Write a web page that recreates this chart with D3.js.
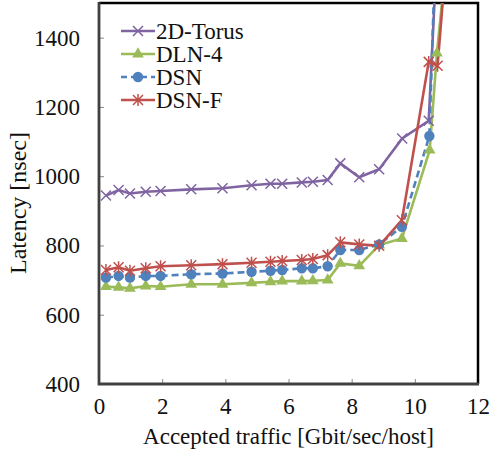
<!DOCTYPE html>
<html>
<head>
<meta charset="utf-8">
<script src="https://cdn.jsdelivr.net/npm/d3@7"></script>
<style>
body { margin: 0; background: #fff; }
svg, svg text { font-family: "Liberation Serif", "Times New Roman", Times, serif !important; }
</style>
</head>
<body>
<div class="canvas"></div>
<script>
// data
const seriesNames = ['2D-Torus', 'DLN-4', 'DSN', 'DSN-F'];

const torusX = [0.22, 0.62, 0.98, 1.48, 1.95, 2.92, 3.91, 4.83, 5.43, 5.80, 6.42, 6.77, 7.24, 7.64, 8.24, 8.87, 9.60, 10.44, 10.70];
const torusY = [944, 960, 950, 955, 957, 962, 965, 974, 978, 978, 982, 984, 989, 1037, 997, 1020, 1109, 1160, 1650];

const dlnX = [0.22, 0.62, 0.98, 1.48, 1.95, 2.92, 3.91, 4.83, 5.43, 5.80, 6.42, 6.77, 7.24, 7.64, 8.24, 8.87, 9.59, 10.47, 10.70, 11.0];
const dlnY = [681, 679, 676, 683, 681, 688, 688, 692, 695, 697, 697, 698, 700, 748, 741, 801, 820, 1075, 1355, 1630];

const dsnX = [0.22, 0.62, 0.98, 1.48, 1.95, 2.92, 3.91, 4.83, 5.43, 5.80, 6.42, 6.77, 7.24, 7.64, 8.24, 8.87, 9.59, 10.46, 10.70];
const dsnY = [707, 712, 707, 712, 712, 717, 719, 724, 727, 729, 734, 734, 740, 787, 787, 803, 854, 1116, 1790];

const dsnfX = [0.22, 0.62, 0.98, 1.48, 1.95, 2.92, 3.91, 4.83, 5.43, 5.80, 6.42, 6.77, 7.24, 7.64, 8.24, 8.87, 9.59, 10.44, 10.72, 11.0];
const dsnfY = [729, 737, 727, 734, 740, 743, 746, 750, 753, 755, 758, 761, 772, 809, 803, 799, 873, 1330, 1319, 1635];

const xTicks = [0, 2, 4, 6, 8, 10, 12];
const yTicks = [400, 600, 800, 1000, 1200, 1400];

const colors = ['#8064A2', '#9BBB59', '#4F81BD', '#C0504D'];
const markers = ['cross', 'triangle', 'circle', 'star'];

const series = [
  {name: seriesNames[0], xs: torusX, ys: torusY},
  {name: seriesNames[1], xs: dlnX, ys: dlnY},
  {name: seriesNames[2], xs: dsnX, ys: dsnY},
  {name: seriesNames[3], xs: dsnfX, ys: dsnfY}
].map((s, i) => ({
  name: s.name,
  color: colors[i],
  marker: markers[i],
  dashed: i === 2,
  points: s.xs.map((x, j) => ({x: x, y: s.ys[j]}))
}));

// dimensions
const width = 490, height = 451;
const plot = {left: 99, right: 478, top: 3, bottom: 384};
const serif = '"Liberation Serif", "Times New Roman", Times, serif';

const svg = d3.select('.canvas')
  .append('svg')
  .attr('width', width)
  .attr('height', height)
  .attr('font-family', serif);

// scales
const x = d3.scaleLinear().domain([0, 12]).range([plot.left, plot.right]);
const y = d3.scaleLinear().domain([400, 1500]).range([plot.bottom, plot.top]);

svg.append('clipPath').attr('id', 'clip')
  .append('rect')
  .attr('x', plot.left)
  .attr('y', plot.top)
  .attr('width', plot.right - plot.left)
  .attr('height', plot.bottom - plot.top);

// axes (ticks point inward)
const xAxis = d3.axisBottom(x).tickValues(xTicks).tickSize(-5).tickPadding(13).tickFormat(d3.format('d'));
const yAxis = d3.axisLeft(y).tickValues(yTicks).tickSize(-5).tickPadding(19).tickFormat(d3.format('d'));

const xAxisGroup = svg.append('g')
  .attr('transform', `translate(0,${plot.bottom})`)
  .call(xAxis);
const yAxisGroup = svg.append('g')
  .attr('transform', `translate(${plot.left},0)`)
  .call(yAxis);

[xAxisGroup, yAxisGroup].forEach(g => {
  g.attr('font-family', serif).attr('font-size', 23);
  g.select('.domain').remove();
  g.selectAll('.tick line').attr('stroke', '#888').attr('stroke-width', 1);
  g.selectAll('.tick text')
    .attr('font-family', serif)
    .attr('font-size', 23)
    .attr('fill', '#111');
});
xAxisGroup.selectAll('.tick text').attr('dy', '0.72em');
// hide the ticks at the frame edges
xAxisGroup.selectAll('.tick line').filter(d => d === 0 || d === 12).remove();
yAxisGroup.selectAll('.tick line').filter(d => d === 400).remove();

// frame: top/right black, left/bottom dark grey
svg.append('path')
  .attr('d', `M${plot.left},${plot.top}H${plot.right}V${plot.bottom}`)
  .attr('fill', 'none')
  .attr('stroke', '#000')
  .attr('stroke-width', 2.5);
svg.append('path')
  .attr('d', `M${plot.left},${plot.top - 1}V${plot.bottom}H${plot.right + 1}`)
  .attr('fill', 'none')
  .attr('stroke', '#404040')
  .attr('stroke-width', 2.8);

// lines
const line = d3.line().x(d => x(d.x)).y(d => y(d.y));

const graph = svg.append('g').attr('clip-path', 'url(#clip)');

series.forEach(s => {
  graph.append('path')
    .datum(s.points)
    .attr('fill', 'none')
    .attr('stroke', s.color)
    .attr('stroke-width', 2.6)
    .attr('stroke-dasharray', s.dashed ? '7,4' : null)
    .attr('d', line);
});

// marker drawing
function drawMarker(g, type, color, cx, cy) {
  if (type === 'cross') {
    g.append('path')
      .attr('d', `M${cx - 5},${cy - 5}L${cx + 5},${cy + 5}M${cx - 5},${cy + 5}L${cx + 5},${cy - 5}`)
      .attr('stroke', color).attr('stroke-width', 1.5).attr('fill', 'none');
  } else if (type === 'triangle') {
    g.append('path')
      .attr('d', d3.symbol().type(d3.symbolTriangle).size(60)())
      .attr('transform', `translate(${cx},${cy})`)
      .attr('fill', color);
  } else if (type === 'circle') {
    g.append('circle')
      .attr('cx', cx).attr('cy', cy).attr('r', 5.2)
      .attr('fill', color);
  } else if (type === 'star') {
    g.append('path')
      .attr('d', `M${cx - 5},${cy - 5}L${cx + 5},${cy + 5}M${cx - 5},${cy + 5}L${cx + 5},${cy - 5}M${cx},${cy - 6}L${cx},${cy + 6}`)
      .attr('stroke', color).attr('stroke-width', 1.5).attr('fill', 'none');
  }
}

series.forEach(s => {
  const mg = graph.append('g');
  s.points.forEach(p => drawMarker(mg, s.marker, s.color, x(p.x), y(p.y)));
});

// legend
const legend = svg.append('g');
const legendRows = [31, 54, 77, 100];
series.forEach((s, i) => {
  const ly = legendRows[i];
  legend.append('line')
    .attr('x1', 121).attr('x2', 155)
    .attr('y1', ly).attr('y2', ly)
    .attr('stroke', s.color)
    .attr('stroke-width', 2.6)
    .attr('stroke-dasharray', s.dashed ? '6,4' : null);
  drawMarker(legend, s.marker, s.color, 138, ly);
  legend.append('text')
    .attr('x', 156)
    .attr('y', ly)
    .attr('dy', '0.35em')
    .attr('font-family', serif)
    .attr('font-size', 23)
    .attr('fill', '#111')
    .text(s.name);
});

// axis titles
svg.append('text')
  .attr('x', (plot.left + plot.right) / 2)
  .attr('y', 444)
  .attr('text-anchor', 'middle')
  .attr('font-family', serif)
  .attr('font-size', 23)
  .attr('fill', '#111')
  .text('Accepted traffic [Gbit/sec/host]');

svg.append('text')
  .attr('transform', 'translate(26,203) rotate(-90)')
  .attr('text-anchor', 'middle')
  .attr('font-family', serif)
  .attr('font-size', 24)
  .attr('fill', '#111')
  .text('Latency [nsec]');
</script>
</body>
</html>
